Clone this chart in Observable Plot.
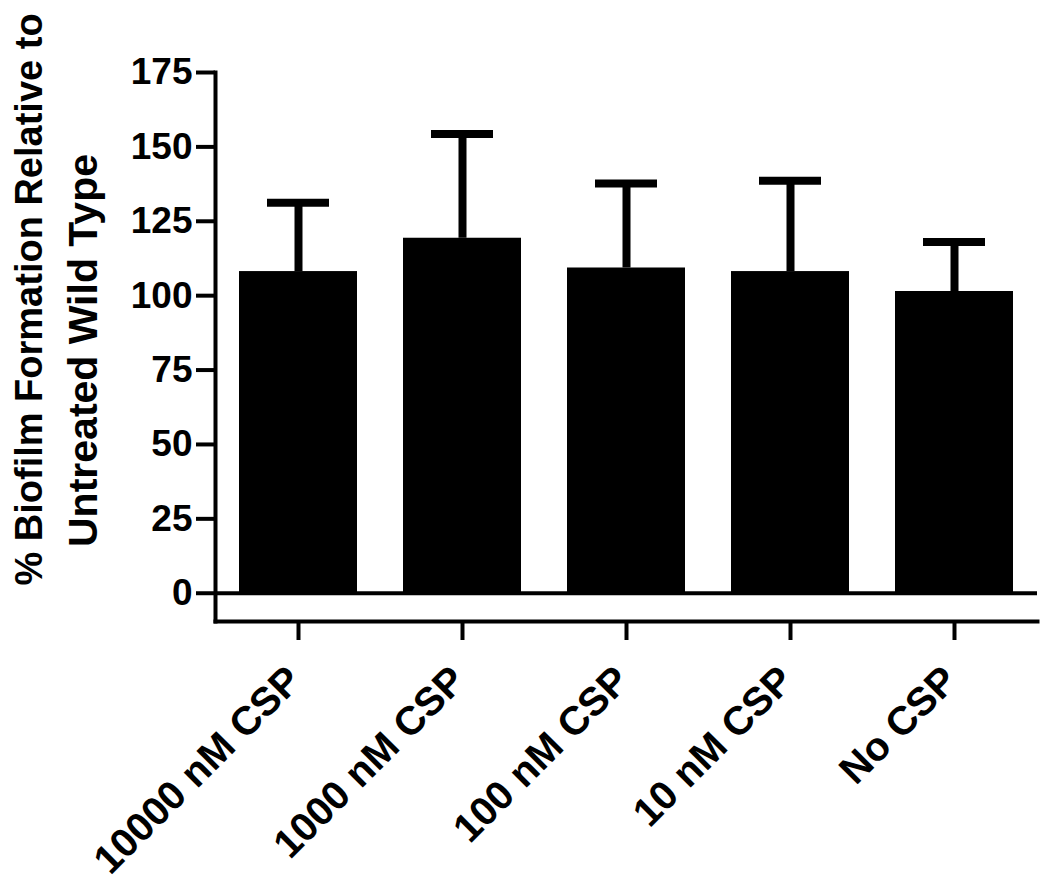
<!DOCTYPE html>
<html>
<head>
<meta charset="utf-8">
<script src="https://cdn.jsdelivr.net/npm/d3@7"></script>
<script src="https://cdn.jsdelivr.net/npm/@observablehq/plot@0.6"></script>
<style>
  html, body { margin: 0; padding: 0; background: #fff; }
</style>
</head>
<body>
<div id="chart"></div>
<script>
const categories = ["10000 nM CSP", "1000 nM CSP", "100 nM CSP", "10 nM CSP", "No CSP"];
const means = [108.1, 119.3, 109.3, 108.1, 101.4];
const errors = [23.1, 35.0, 28.4, 30.5, 16.6];
const yTicks = [0, 25, 50, 75, 100, 125, 150, 175];
const yLabelLines = ["% Biofilm Formation Relative to", "Untreated Wild Type"];

const data = categories.map((c, i) => ({cat: c, mean: means[i], upper: means[i] + errors[i]}));
const font = "'Liberation Sans', Arial, sans-serif";

const chart = Plot.plot({
  width: 1050,
  height: 882,
  marginLeft: 215,
  marginRight: 13,
  marginTop: 72,
  marginBottom: 261,
  style: {fontFamily: font, fontWeight: "bold", color: "#000", background: "#fff"},
  x: {domain: categories, paddingInner: 0.28, paddingOuter: 0.135, label: null},
  y: {domain: [-9.5, 175], label: null},
  marks: [
    Plot.barY(data, {x: "cat", y: "mean", fill: "#000"}),
    Plot.ruleX(data, {x: "cat", y1: "mean", y2: "upper", stroke: "#000", strokeWidth: 8}),
    Plot.tickY(data, {x: "cat", y: "upper", stroke: "#000", strokeWidth: 8, insetLeft: 28, insetRight: 28}),
    Plot.ruleY([0], {stroke: "#000", strokeWidth: 4}),
    Plot.frame({anchor: "left", stroke: "#000", strokeWidth: 4}),
    Plot.frame({anchor: "bottom", stroke: "#000", strokeWidth: 4}),
    Plot.axisY({ticks: yTicks, tickSize: 19, tickPadding: 4, strokeWidth: 4, fontSize: 37, label: null}),
    Plot.axisX({tickSize: 19, strokeWidth: 4, tickFormat: () => "", label: null}),
    Plot.axisX({tickSize: 0, tickRotate: -45, tickPadding: 52, dx: -4, fontSize: 40, label: null}),
    Plot.text([yLabelLines[0]], {
      frameAnchor: "top-left", rotate: -90, textAnchor: "middle", lineAnchor: "middle",
      dx: -186, dy: 227, fontSize: 38, fill: "#000", fontWeight: "bold"
    }),
    Plot.text([yLabelLines[1]], {
      frameAnchor: "top-left", rotate: -90, textAnchor: "middle", lineAnchor: "middle",
      dx: -132, dy: 278, fontSize: 41, fill: "#000", fontWeight: "bold"
    })
  ]
});
document.getElementById("chart").appendChild(chart);
</script>
</body>
</html>
